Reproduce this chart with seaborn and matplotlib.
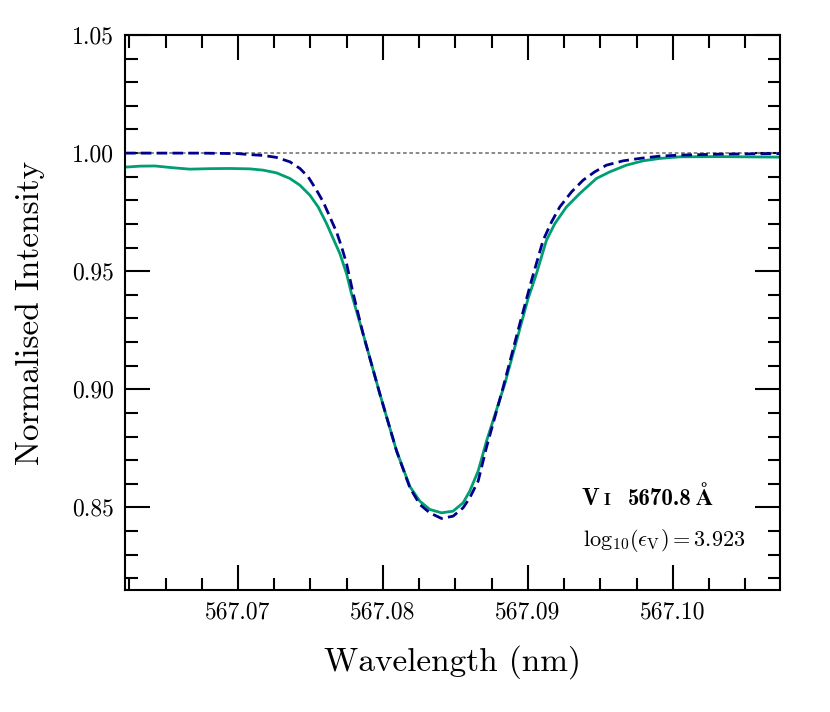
import numpy as np
import pandas as pd
import seaborn as sns
import matplotlib.pyplot as plt
from matplotlib.ticker import MultipleLocator

# observed profile (green) - wavelength in nm
obs_wave = [567.06220, 567.06323, 567.06427, 567.06544, 567.06668, 567.06806,
            567.06944, 567.07082, 567.07174, 567.07266, 567.07358, 567.07427,
            567.07496, 567.07553, 567.07611, 567.07657, 567.07703, 567.07749,
            567.07783, 567.07863, 567.07979, 567.08094, 567.08186, 567.08254,
            567.08323, 567.08404, 567.08484, 567.08553, 567.08599, 567.08657,
            567.08715, 567.08841, 567.08958, 567.09001, 567.09059, 567.09128,
            567.09186, 567.09266, 567.09358, 567.09473, 567.09565, 567.09680,
            567.09795, 567.09910, 567.10048, 567.10323, 567.10740]
obs_flux = [0.99406, 0.99448, 0.99456, 0.99384, 0.99321, 0.99342,
            0.99350, 0.99333, 0.99278, 0.99163, 0.98926, 0.98641,
            0.98217, 0.97720, 0.97015, 0.96378, 0.95741, 0.94892,
            0.94042, 0.92344, 0.89796, 0.87389, 0.85881, 0.85265,
            0.84913, 0.84769, 0.84841, 0.85193, 0.85690, 0.86539,
            0.87813, 0.90234, 0.92866, 0.93830, 0.94892, 0.96306,
            0.97015, 0.97720, 0.98289, 0.98926, 0.99206, 0.99490,
            0.99673, 0.99775, 0.99843, 0.99851, 0.99830]

# synthetic profile (blue dashed)
syn_wave = [567.06220, 567.06737, 567.07000, 567.07082, 567.07174, 567.07266,
            567.07358, 567.07427, 567.07484, 567.07542, 567.07588, 567.07634,
            567.07680, 567.07715, 567.07749, 567.07795, 567.07863, 567.07979,
            567.08094, 567.08186, 567.08254, 567.08323, 567.08404, 567.08484,
            567.08553, 567.08599, 567.08657, 567.08715, 567.08829, 567.08944,
            567.09025, 567.09105, 567.09163, 567.09220, 567.09301, 567.09381,
            567.09461, 567.09542, 567.09657, 567.09772, 567.09910, 567.10048,
            567.10323, 567.10740]
syn_flux = [1.00000, 1.00000, 0.99979, 0.99936, 0.99902, 0.99817,
            0.99631, 0.99350, 0.98994, 0.98429, 0.97932, 0.97295,
            0.96658, 0.96021, 0.95316, 0.94042, 0.92344, 0.89796,
            0.87389, 0.85830, 0.85125, 0.84769, 0.84531, 0.84628,
            0.84981, 0.85406, 0.86115, 0.87558, 0.90076, 0.92769,
            0.94607, 0.96306, 0.97083, 0.97720, 0.98357, 0.98854,
            0.99206, 0.99490, 0.99673, 0.99775, 0.99873, 0.99915,
            0.99958, 0.99979]

xlim = (567.0622, 567.1074)
ylim = (0.815, 1.05)
xticks = [567.07, 567.08, 567.09, 567.10]
xticklabels = ['567.07', '567.08', '567.09', '567.10']

df_obs = pd.DataFrame({'wave': obs_wave, 'flux': obs_flux})
df_syn = pd.DataFrame({'wave': syn_wave, 'flux': syn_flux})

sns.set_style('ticks')
plt.rcParams['font.family'] = 'serif'
plt.rcParams['font.serif'] = ['cmr10']
plt.rcParams['mathtext.fontset'] = 'cm'
plt.rcParams['axes.formatter.use_mathtext'] = True
plt.rcParams['axes.unicode_minus'] = False
for k in ['text.color', 'axes.labelcolor', 'xtick.color', 'ytick.color']:
    plt.rcParams[k] = 'black'

fig, ax = plt.subplots(figsize=(8.3, 7.12), dpi=100)
fig.subplots_adjust(left=0.1506, right=0.9398, top=0.9508, bottom=0.1713)

ax.axhline(1.0, color='#808080', lw=1.3, ls=(0, (2, 1.5)), zorder=1)
sns.lineplot(data=df_obs, x='wave', y='flux', ax=ax, color='#009E73', lw=2.0,
             sort=False, zorder=2)
sns.lineplot(data=df_syn, x='wave', y='flux', ax=ax, color='#00008B', lw=2.0,
             sort=False, zorder=3)
ax.lines[-1].set_linestyle((0, (3.8, 1.9)))

ax.set_xlim(*xlim)
ax.set_ylim(*ylim)
ax.xaxis.set_minor_locator(MultipleLocator(0.0025))
ax.yaxis.set_major_locator(MultipleLocator(0.05))
ax.yaxis.set_minor_locator(MultipleLocator(0.01))
ax.set_xticks(xticks)
ax.set_xticklabels(xticklabels)
ax.yaxis.set_major_formatter(plt.FuncFormatter(lambda v, p: f'{v:.2f}'))

ax.tick_params(which='both', direction='in', top=True, right=True,
               labelsize=17, width=1.5, color='black')
ax.tick_params(which='major', length=18, pad=8)
ax.tick_params(which='minor', length=9)
for s in ax.spines.values():
    s.set_linewidth(1.5)
    s.set_color('black')

ax.set_xlabel('Wavelength (nm)', fontsize=24, labelpad=16)
ax.set_ylabel('Normalised Intensity', fontsize=24, labelpad=19)

# line label: V I 5670.8 A (small-cap I)
yb = 0.153
ax.text(0.697, yb, 'V', transform=ax.transAxes, fontfamily='cmb10',
        fontsize=17, ha='left', va='baseline')
ax.text(0.731, yb, 'I', transform=ax.transAxes, fontfamily='cmb10',
        fontsize=12.5, ha='left', va='baseline')
ax.text(0.768, yb, '5670.8', transform=ax.transAxes, fontfamily='cmb10',
        fontsize=16.5, ha='left', va='baseline')
ax.text(0.872, yb, 'Å', transform=ax.transAxes, fontfamily='STIXGeneral',
        fontweight='bold', fontsize=17, ha='left', va='baseline')
ax.text(0.699, 0.079, r'$\mathrm{log}_{10}(\epsilon_\mathrm{V}) = 3.923$',
        transform=ax.transAxes, fontsize=16, ha='left', va='baseline')

fig.savefig('out.png', dpi=100)
